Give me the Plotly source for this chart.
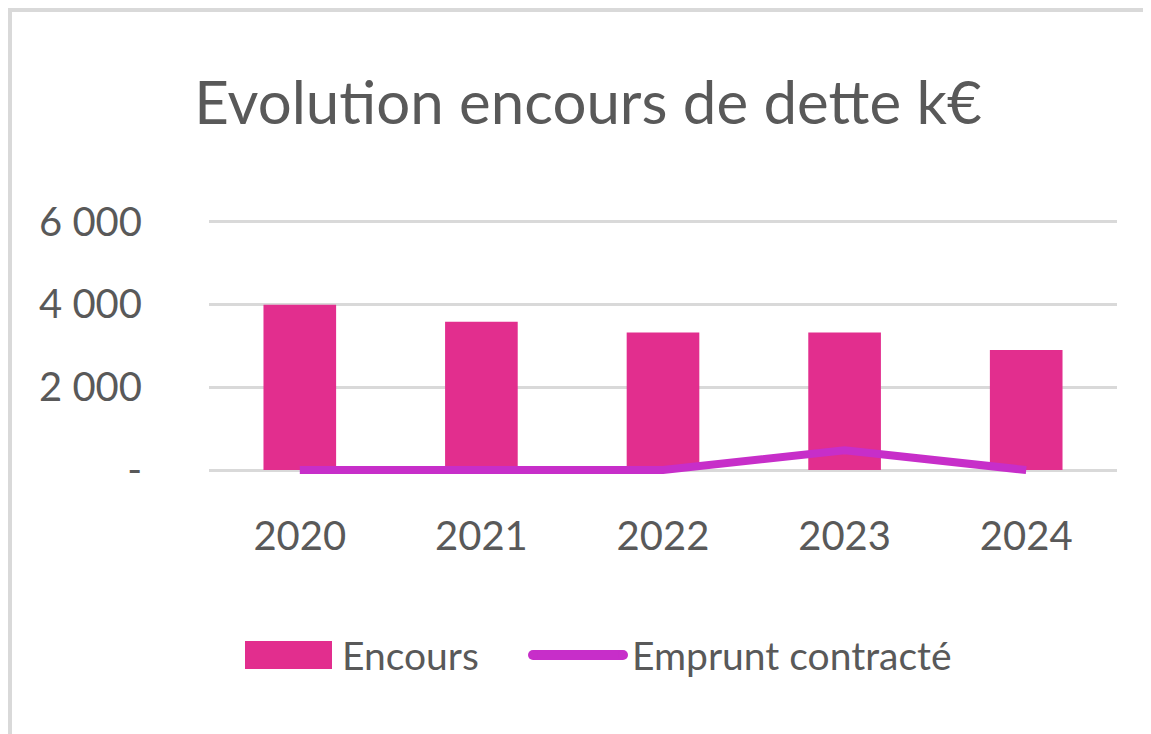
import plotly.graph_objects as go

# data (k€)
years = ["2020", "2021", "2022", "2023", "2024"]
encours = [3990, 3580, 3320, 3320, 2900]
emprunt = [0, 0, 0, 480, 0]

tick_vals = [0, 2000, 4000, 6000]
tick_text = ["-", "2 000", "4 000", "6 000"]

font_main = "Lato, Open Sans, sans-serif"
grey_text = "#595959"
grid_col = "#D9D9D9"
bar_col = "#E22E8E"
line_col = "#C72EC9"

fig = go.Figure()
fig.add_trace(go.Bar(
    x=years, y=encours, name="Encours",
    marker=dict(color=bar_col, line=dict(width=0)),
    width=0.4, showlegend=False,
))
fig.add_trace(go.Scatter(
    x=years, y=emprunt, name="Emprunt contracté", mode="lines",
    line=dict(color=line_col, width=8), showlegend=False,
))

# the page body has an 8px margin; screen pixels are converted to paper coords
W, H = 1151, 734
OFF = 8
L, R, T, B = 209, 1117, 220, 475  # plot area on screen


def px_x(p):
    return (p - L) / (R - L)


def px_y(p):
    return (B - p) / (B - T)


# hand-drawn legend, matching the large Excel-style swatches
LY = 655
legend_shapes = [
    dict(type="rect", xref="paper", yref="paper",
         x0=px_x(245), x1=px_x(332), y0=px_y(669), y1=px_y(641),
         fillcolor=bar_col, line=dict(width=0)),
    dict(type="line", xref="paper", yref="paper",
         x0=px_x(533), x1=px_x(623), y0=px_y(LY), y1=px_y(LY),
         line=dict(color=line_col, width=10)),
    dict(type="circle", xref="paper", yref="paper",
         x0=px_x(528), x1=px_x(538), y0=px_y(LY + 5), y1=px_y(LY - 5),
         fillcolor=line_col, line=dict(width=0)),
    dict(type="circle", xref="paper", yref="paper",
         x0=px_x(618), x1=px_x(628), y0=px_y(LY + 5), y1=px_y(LY - 5),
         fillcolor=line_col, line=dict(width=0)),
]
legend_ann = [
    dict(text=fig.data[0].name, xref="paper", yref="paper", x=px_x(340), y=px_y(LY),
         xanchor="left", yanchor="middle", showarrow=False,
         font=dict(size=39, color=grey_text)),
    dict(text=fig.data[1].name, xref="paper", yref="paper", x=px_x(630), y=px_y(LY),
         xanchor="left", yanchor="middle", showarrow=False,
         font=dict(size=39, color=grey_text)),
]

# chart-area frame (top and left edges only are visible in the reference)
border = [
    dict(type="line", xref="paper", yref="paper",
         x0=px_x(10), x1=px_x(10), y0=px_y(8), y1=px_y(H + 20),
         line=dict(color=grid_col, width=4)),
    dict(type="line", xref="paper", yref="paper",
         x0=px_x(8), x1=px_x(W + 20), y0=px_y(10), y1=px_y(10),
         line=dict(color=grid_col, width=4)),
]

fig.update_layout(
    width=W, height=H,
    margin=dict(l=L - OFF, r=W - (R - OFF), t=T - OFF, b=H - (B - OFF), autoexpand=False),
    paper_bgcolor="white", plot_bgcolor="white",
    font=dict(family=font_main, color=grey_text, size=40),
    title=dict(text="Evolution encours de dette k€", x=(588 - OFF) / W, xanchor="center",
               xref="container", y=1 - (103 - OFF) / H, yanchor="middle", yref="container",
               font=dict(size=60, color=grey_text)),
    showlegend=False,
    shapes=border + legend_shapes,
    annotations=legend_ann,
)
fig.update_xaxes(showline=False, showgrid=False, ticks="", ticklabelstandoff=34,
                 tickfont=dict(size=40, color=grey_text))
fig.update_yaxes(range=[-120, 6040], tickvals=tick_vals, ticktext=tick_text,
                 showgrid=True, gridcolor=grid_col, gridwidth=3,
                 zeroline=True, zerolinecolor=grid_col, zerolinewidth=3,
                 showline=False, ticks="", ticklabelstandoff=66,
                 tickfont=dict(size=40, color=grey_text))

fig.write_html("out.html")
